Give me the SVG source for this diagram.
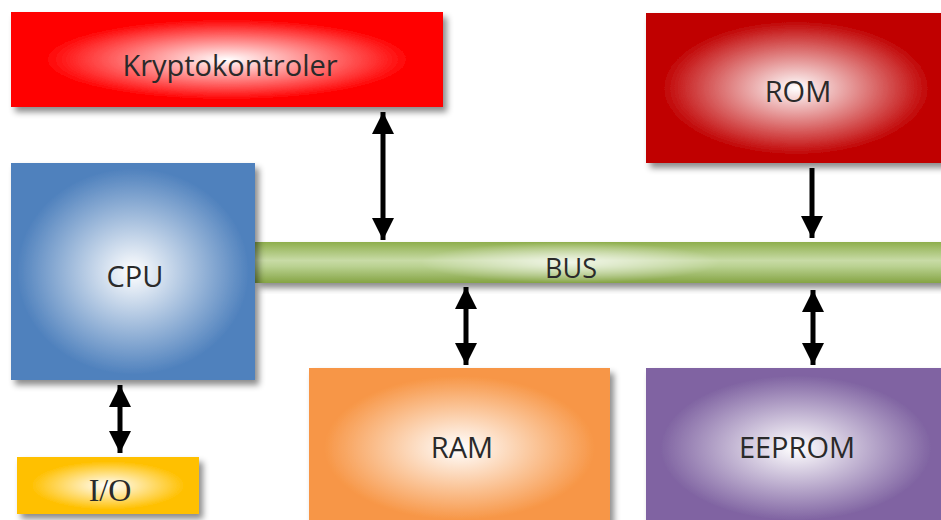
<svg xmlns="http://www.w3.org/2000/svg" width="941" height="520" viewBox="0 0 941 520">
  <defs>
    <filter id="shadow" x="-10%" y="-10%" width="125%" height="135%">
      <feDropShadow dx="4" dy="5" stdDeviation="3" flood-color="#000" flood-opacity="0.45"/>
    </filter>
    <radialGradient id="gRed" cx="50%" cy="50%" r="50%">
      <stop offset="0" stop-color="#ffffff"/>
      <stop offset="0.85" stop-color="#ff0000"/>
      <stop offset="1" stop-color="#ff0000"/>
    </radialGradient>
    <radialGradient id="gDarkRed" cx="50%" cy="50%" r="50%">
      <stop offset="0" stop-color="#ffffff"/>
      <stop offset="0.9" stop-color="#c00000"/>
      <stop offset="1" stop-color="#c00000"/>
    </radialGradient>
    <radialGradient id="gBlue" cx="50%" cy="50%" r="50%">
      <stop offset="0" stop-color="#ffffff"/>
      <stop offset="0.95" stop-color="#4f81bd"/>
      <stop offset="1" stop-color="#4f81bd"/>
    </radialGradient>
    <radialGradient id="gOrange" cx="50%" cy="50%" r="50%">
      <stop offset="0" stop-color="#ffffff"/>
      <stop offset="0.9" stop-color="#f79646"/>
      <stop offset="1" stop-color="#f79646"/>
    </radialGradient>
    <radialGradient id="gPurple" cx="50%" cy="50%" r="50%">
      <stop offset="0" stop-color="#ffffff"/>
      <stop offset="0.9" stop-color="#8064a2"/>
      <stop offset="1" stop-color="#8064a2"/>
    </radialGradient>
    <radialGradient id="gGold" cx="50%" cy="50%" r="50%">
      <stop offset="0" stop-color="#ffffff"/>
      <stop offset="0.85" stop-color="#ffc000"/>
      <stop offset="1" stop-color="#ffc000"/>
    </radialGradient>
    <linearGradient id="gBus" x1="0" y1="0" x2="0" y2="1">
      <stop offset="0" stop-color="#8eae4c"/>
      <stop offset="0.45" stop-color="#c8dba6"/>
      <stop offset="0.6" stop-color="#b9d190"/>
      <stop offset="1" stop-color="#85a444"/>
    </linearGradient>
    <radialGradient id="gBusGlow" cx="50%" cy="50%" r="50%">
      <stop offset="0" stop-color="#ffffff" stop-opacity="0.75"/>
      <stop offset="1" stop-color="#ffffff" stop-opacity="0"/>
    </radialGradient>
    <marker id="head" viewBox="0 0 24 22" refX="22" refY="11" markerWidth="24" markerHeight="22" markerUnits="userSpaceOnUse" orient="auto-start-reverse">
      <path d="M0,0 L22,11 L0,22 Z" fill="#000"/>
    </marker>
    <style>
      .label { font-family: "Open Sans", "Noto Sans", "Liberation Sans", sans-serif; font-size: 29px; fill: #2a2a2a; text-anchor: middle; }
      .serif { font-family: "Liberation Serif", serif; font-size: 32px; fill: #2a2a2a; text-anchor: middle; }
      .link { stroke: #000; stroke-width: 5; fill: none; }
    </style>
  </defs>

  <rect width="941" height="520" fill="#ffffff"/>

  <g id="bus">
    <rect x="255" y="242" width="690" height="41" fill="url(#gBus)" filter="url(#shadow)"/>
    <rect x="420" y="242" width="300" height="41" fill="url(#gBusGlow)"/>
    <text class="label" x="571" y="278" style="font-size:27px">BUS</text>
  </g>

  <g id="kryptokontroler">
    <rect x="11" y="12" width="432" height="95" fill="url(#gRed)" filter="url(#shadow)"/>
    <text class="label" x="230" y="76">Kryptokontroler</text>
  </g>

  <g id="rom">
    <rect x="646" y="13" width="300" height="150" fill="url(#gDarkRed)" filter="url(#shadow)"/>
    <text class="label" x="798" y="102">ROM</text>
  </g>

  <g id="cpu">
    <rect x="11" y="163" width="244" height="217" fill="url(#gBlue)" filter="url(#shadow)"/>
    <text class="label" x="135" y="287">CPU</text>
  </g>

  <g id="ram">
    <rect x="309" y="368" width="301" height="160" fill="url(#gOrange)" filter="url(#shadow)"/>
    <text class="label" x="462" y="458">RAM</text>
  </g>

  <g id="eeprom">
    <rect x="646" y="368" width="300" height="160" fill="url(#gPurple)" filter="url(#shadow)"/>
    <text class="label" x="797" y="458">EEPROM</text>
  </g>

  <g id="io">
    <rect x="17" y="457" width="182" height="57" fill="url(#gGold)" filter="url(#shadow)"/>
    <text class="serif" x="110" y="501">I/O</text>
  </g>

  <g id="connectors">
    <line class="link" x1="383" y1="112" x2="383" y2="240" marker-start="url(#head)" marker-end="url(#head)"/>
    <line class="link" x1="812" y1="168" x2="812" y2="238" marker-end="url(#head)"/>
    <line class="link" x1="466" y1="287" x2="466" y2="365" marker-start="url(#head)" marker-end="url(#head)"/>
    <line class="link" x1="813" y1="290" x2="813" y2="365" marker-start="url(#head)" marker-end="url(#head)"/>
    <line class="link" x1="120" y1="385" x2="120" y2="453" marker-start="url(#head)" marker-end="url(#head)"/>
  </g>
</svg>
